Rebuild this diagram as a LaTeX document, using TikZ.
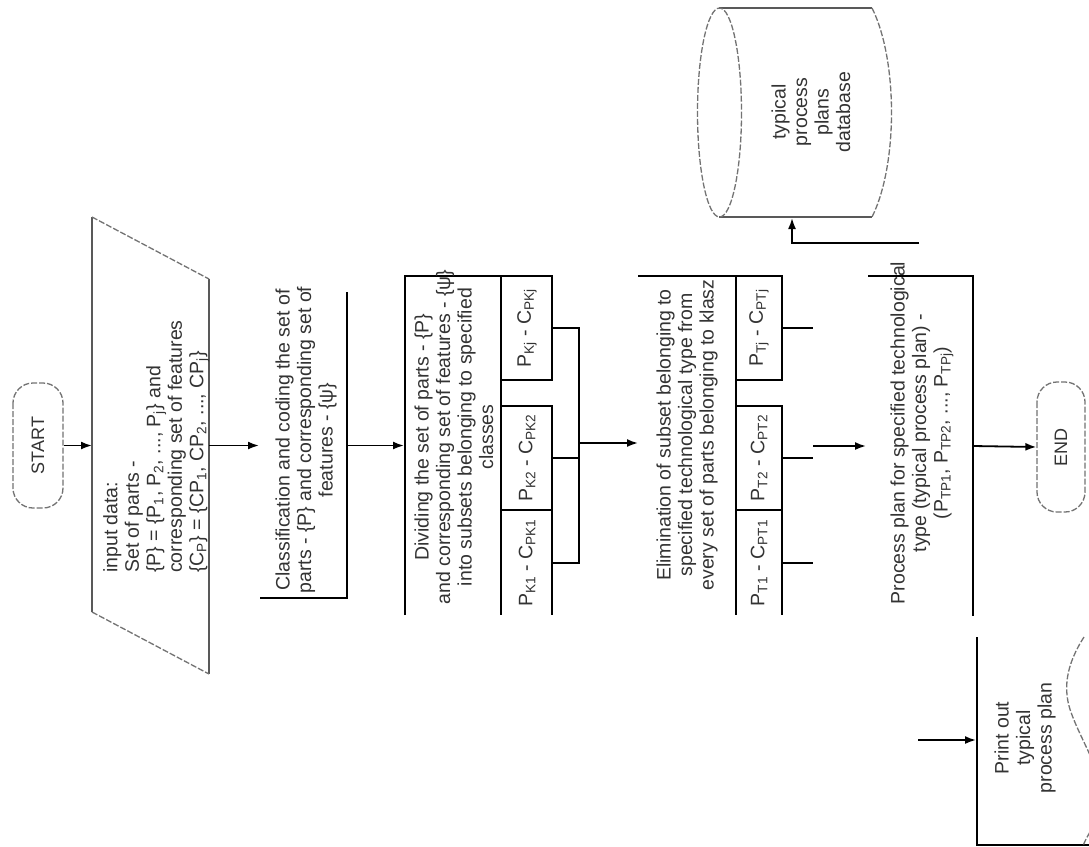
\documentclass[tikz,border=0pt]{standalone}
\usepackage{fontspec}
\setmainfont{Liberation Sans}
\usetikzlibrary{arrows.meta}
\begin{document}
\begin{tikzpicture}[x=1pt,y=-1pt,
  line/.style={draw=black, line width=1.8pt},
  arr/.style={draw=black, line width=1.8pt, -{Latex[length=11pt,width=8pt]}},
  faint/.style={draw=black!55, line width=1.3pt, dash pattern=on 6pt off 2pt},
  edge/.style={draw=black!65, line width=1.5pt},
  txt/.style={rotate=90, align=center, inner sep=0pt, text=black!80, font=\fontsize{19.5}{21.5}\selectfont},
  term/.style={faint, rounded corners=20pt, rotate=90, inner sep=0pt, text=black!80, font=\fontsize{18}{20}\selectfont},
]
\useasboundingbox (0,0) rectangle (1089,846);
\fill[white] (0,0) rectangle (1089,846);

% START
\node[term, minimum width=125pt, minimum height=50pt] (start) at (38,445.5) {START};

% input parallelogram
\coordinate (paraL) at (92,445.5);
\coordinate (paraR) at (209,445.5);
\draw[edge] (92,217) -- (92,612);
\draw[edge] (209,279) -- (209,674);
\draw[faint] (92,217) -- (209,279);
\draw[faint] (92,612) -- (209,674);
\node[txt, align=left, anchor=north west] (inputtxt) at (103,573) {input data:\\ Set of parts -\\ \{P\} = \{P\textsubscript{1}, P\textsubscript{2}, ..., P\textsubscript{j}\} and\\ corresponding set of features\\ \{C\textsubscript{P}\} = \{CP\textsubscript{1}, CP\textsubscript{2}, ..., CP\textsubscript{j}\}};
\draw[arr] (start.south) -- (paraL);

% classification
\coordinate (classL) at (259,445.5);
\coordinate (classR) at (347,445.5);
\draw[line] (260,598) -- (347,598) -- (347,292);
\node[txt] (classtxt) at (306,440) {Classification and coding the set of\\ parts - \{P\} and corresponding set of\\ features - \{ψ\}};
\draw[arr] (paraR) -- (classL);

% dividing
\coordinate (divL) at (404,445.5);
\draw[line] (405,615) -- (405,276) -- (552,276) -- (552,380) -- (501,380);
\draw[line] (501,276) -- (501,615);
\draw[line] (501,406) -- (552,406) -- (552,615);
\draw[line] (501,510) -- (552,510);
\node[txt] (divtxt) at (454,437) {Dividing the set of parts - \{P\}\\ and corresponding set of features - \{ψ\}\\ into subsets belonging to specified\\ classes};
\node[txt] (kj) at (527,328) {P\textsubscript{Kj} - C\textsubscript{PKj}};
\node[txt] (k2) at (527,458) {P\textsubscript{K2} - C\textsubscript{PK2}};
\node[txt] (k1) at (527,563) {P\textsubscript{K1} - C\textsubscript{PK1}};
\draw[line] (552,328) -- (579,328) -- (579,563) -- (552,563);
\draw[line] (552,458) -- (579,458);
\draw[arr] (classR) -- (divL);

% elimination
\coordinate (divout) at (579,443);
\coordinate (elimL) at (638,443);
\draw[line] (638,276) -- (782,276) -- (782,380) -- (736,380);
\draw[line] (736,276) -- (736,615);
\draw[line] (736,406) -- (782,406) -- (782,615);
\draw[line] (736,510) -- (782,510);
\node[txt] (elimtxt) at (687,435) {Elimination of subset belonging to\\ specified technological type from\\ every set of parts belonging to klasz};
\node[txt] (tj) at (759,328) {P\textsubscript{Tj} - C\textsubscript{PTj}};
\node[txt] (t2) at (759,458) {P\textsubscript{T2} - C\textsubscript{PT2}};
\node[txt] (t1) at (759,563) {P\textsubscript{T1} - C\textsubscript{PT1}};
\draw[line] (782,328) -- (813,328);
\draw[line] (782,458) -- (813,458);
\draw[line] (782,563) -- (813,563);
\draw[arr] (divout) -- (elimL);

% process plan
\coordinate (elimout) at (813,446);
\coordinate (procL) at (866,446);
\coordinate (procR) at (973,446);
\draw[line] (868,276) -- (973,276) -- (973,616);
\node[txt] (proctxt) at (922,433) {Process plan for specified technological\\ type (typical process plan) -\\ (P\textsubscript{TP1}, P\textsubscript{TP2}, ..., P\textsubscript{TPj})};
\draw[arr] (elimout) -- (procL);

% END
\node[term, minimum width=130pt, minimum height=48pt] (end) at (1061,447) {END};
\draw[arr] (procR) -- (end.north);

% database
\draw[edge] (719,8) -- (872,8);
\draw[edge] (719,217) -- (872,217);
\draw[faint] (719.5,112.5) ellipse [x radius=22, y radius=104.5];
\draw[faint] (872,8) .. controls (898,60) and (898,165) .. (872,217);
\node[txt] (dbtxt) at (811,112) {typical\\ process\\ plans\\ database};
\coordinate (dbfrom) at (919,243);
\coordinate (dbin) at (792,218);
\draw[arr] (dbfrom) -| (dbin);

% print out
\draw[line] (977,637) -- (977,845) -- (1089,845);
\begin{scope}
\clip (0,0) rectangle (1089,846);
\draw[faint] (1084,637) .. controls (1066,665) and (1062,690) .. (1072,715) .. controls (1085,750) and (1115,790) .. (1096,822) .. controls (1090,832) and (1085,840) .. (1083,846);
\end{scope}
\node[txt] (printtxt) at (1025,738) {Print out\\ typical\\ process plan};
\coordinate (printfrom) at (918,740);
\coordinate (printin) at (976,740);
\draw[arr] (printfrom) -- (printin);
\end{tikzpicture}
\end{document}
